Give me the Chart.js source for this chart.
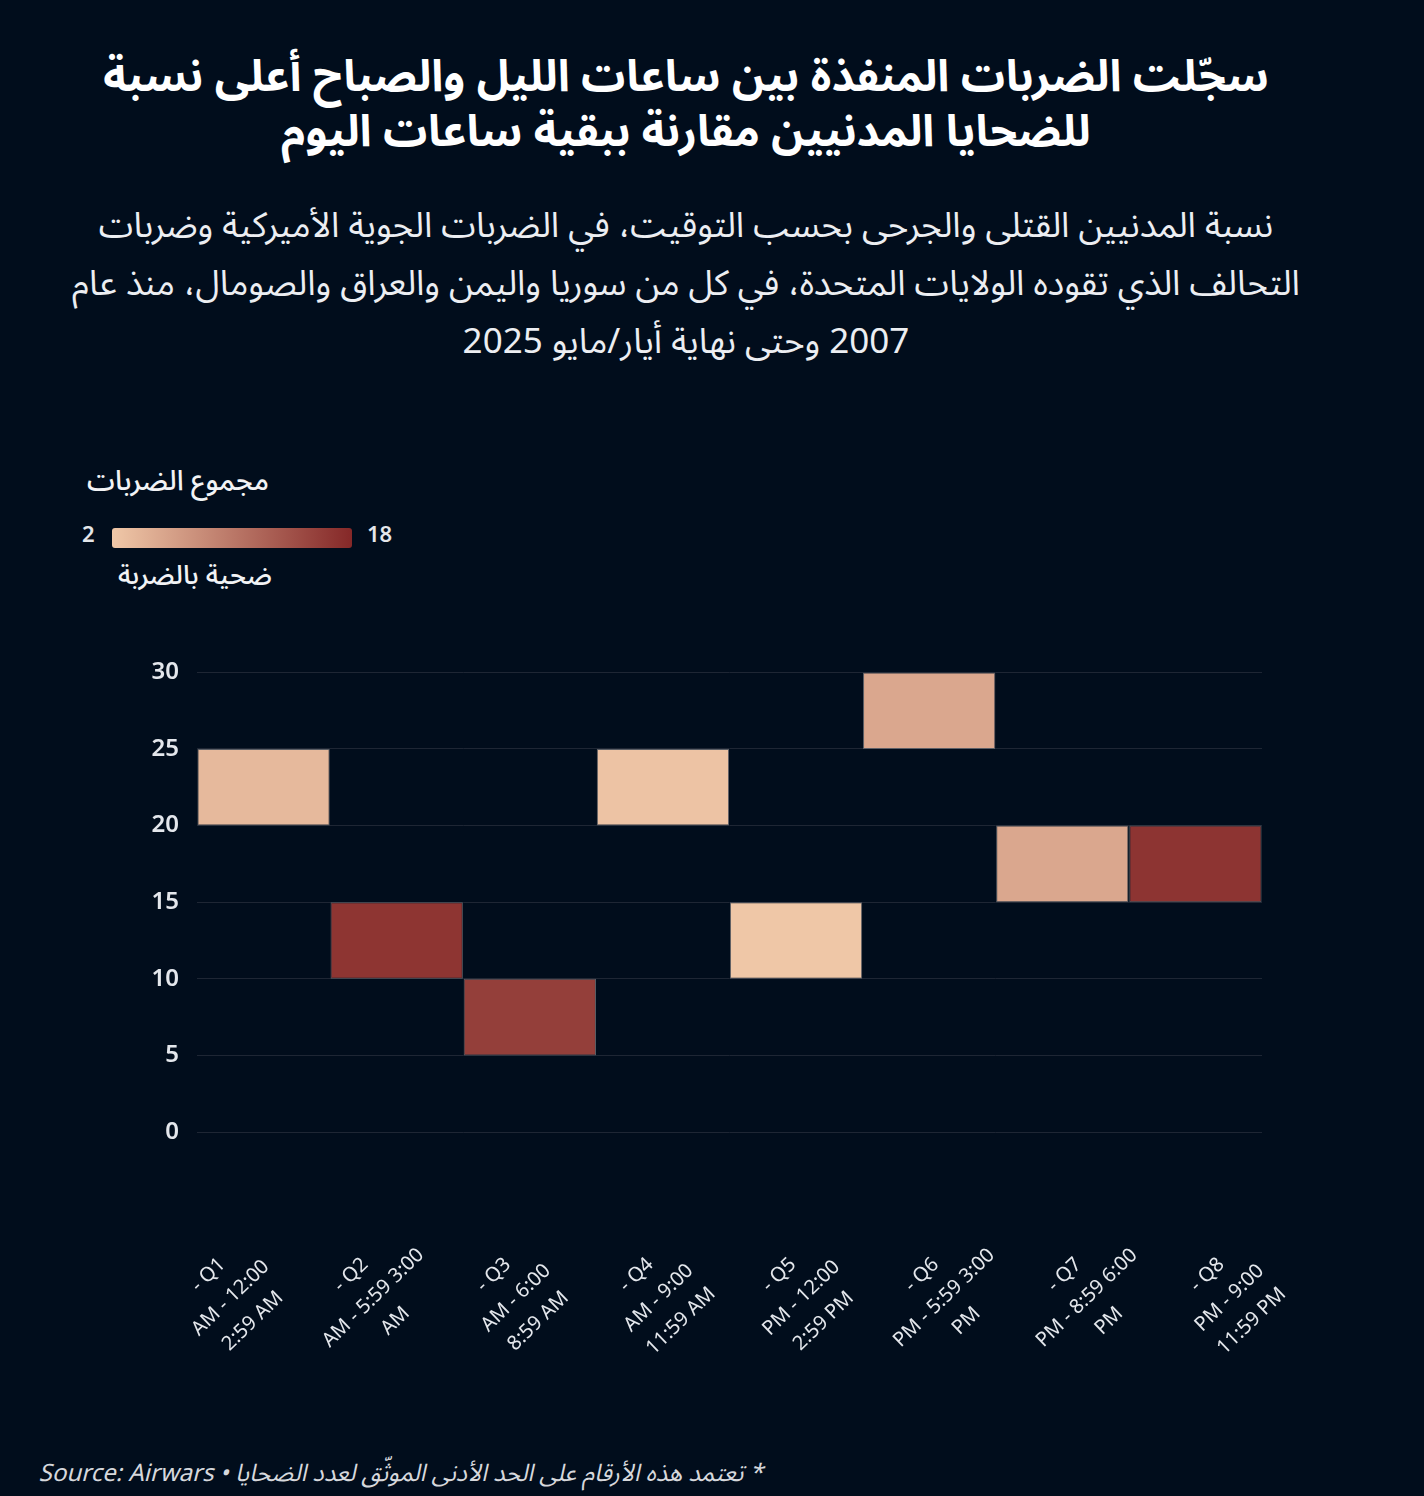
<!DOCTYPE html>
<html lang="ar">
<head>
<meta charset="utf-8">
<title>Strikes by time of day</title>
<script src="https://cdn.jsdelivr.net/npm/chart.js@4.4.1/dist/chart.umd.min.js"></script>
<style>
  html, body {
    margin: 0;
    padding: 0;
    background: #010d1c;
    width: 1424px;
    height: 1496px;
    overflow: hidden;
    font-family: "Noto Sans Arabic", "Noto Sans", "DejaVu Sans", sans-serif;
    color: #ffffff;
  }
  .title {
    position: absolute;
    top: 50px;
    left: 0;
    width: 1372px;
    text-align: center;
    direction: rtl;
    font-size: 44px;
    font-weight: 700;
    line-height: 55px;
  }
  .subtitle {
    position: absolute;
    top: 197px;
    left: 0;
    width: 1372px;
    text-align: center;
    direction: rtl;
    font-size: 35px;
    line-height: 58px;
    color: #eceef2;
  }
  .legend-title {
    position: absolute;
    top: 452px;
    right: 1155px;
    direction: rtl;
    font-size: 28px;
    font-weight: 500;
    color: #f2f3f5;
  }
  .legend-bar {
    position: absolute;
    top: 528px;
    left: 112px;
    width: 240px;
    height: 20px;
    border-radius: 3px;
  }
  .legend-num {
    position: absolute;
    top: 518px;
    font-family: "Noto Sans", sans-serif;
    font-size: 22px;
    font-weight: 600;
    color: #e4e6ea;
  }
  .legend-sub {
    position: absolute;
    top: 547px;
    right: 1152px;
    direction: rtl;
    font-size: 27px;
    font-weight: 500;
    color: #f2f3f5;
  }
  #chart-wrap {
    position: absolute;
    top: 640px;
    left: 0;
    width: 1424px;
    height: 760px;
  }
  .footer {
    position: absolute;
    top: 1448px;
    right: 661px;
    direction: rtl;
    font-size: 24px;
    font-style: italic;
    color: #d6d8dc;
    white-space: nowrap;
  }
</style>
</head>
<body>
<div class="title">سجّلت الضربات المنفذة بين ساعات الليل والصباح أعلى نسبة<br>للضحايا المدنيين مقارنة ببقية ساعات اليوم</div>
<div class="subtitle">نسبة المدنيين القتلى والجرحى بحسب التوقيت، في الضربات الجوية الأميركية وضربات<br>التحالف الذي تقوده الولايات المتحدة، في كل من سوريا واليمن والعراق والصومال، منذ عام<br>2007 وحتى نهاية أيار/مايو 2025</div>

<div class="legend-title">مجموع الضربات</div>
<div class="legend-num" id="legend-min" style="left:82px;"></div>
<div class="legend-bar" id="legend-bar"></div>
<div class="legend-num" id="legend-max" style="left:367px;"></div>
<div class="legend-sub">ضحية بالضربة</div>

<div id="chart-wrap"><canvas id="heatChart"></canvas></div>

<div class="footer">* تعتمد هذه الأرقام على الحد الأدنى الموثّق لعدد الضحايا • Source: Airwars</div>

<script>
// time-of-day slots (as shown on the axis)
const categories = ['Q1', 'Q2', 'Q3', 'Q4', 'Q5', 'Q6', 'Q7', 'Q8'];
const tickLines = [
    ['- Q1', 'AM - 12:00', '2:59 AM'],
    ['- Q2', 'AM - 5:59 3:00', 'AM'],
    ['- Q3', 'AM - 6:00', '8:59 AM'],
    ['- Q4', 'AM - 9:00', '11:59 AM'],
    ['- Q5', 'PM - 12:00', '2:59 PM'],
    ['- Q6', 'PM - 5:59 3:00', 'PM'],
    ['- Q7', 'PM - 8:59 6:00', 'PM'],
    ['- Q8', 'PM - 9:00', '11:59 PM']
];

// cell ranges on the y axis
const cellLow = [20, 10, 5, 20, 10, 25, 15, 15];
const cellHigh = [25, 15, 10, 25, 15, 30, 20, 20];

// civilians per strike (colour)
const victimsPerStrike = [3.5, 16.7, 15.7, 2.5, 2.1, 5.3, 5.3, 16.8];
const colorMin = 2;
const colorMax = 18;

const yTicks = [0, 5, 10, 15, 20, 25, 30];

const lowColor = [240, 200, 168];
const highColor = [133, 40, 40];

function colorFor(v) {
    const t = Math.max(0, Math.min(1, (v - colorMin) / (colorMax - colorMin)));
    const c = lowColor.map((lo, i) => Math.round(lo + (highColor[i] - lo) * t));
    return `rgb(${c[0]}, ${c[1]}, ${c[2]})`;
}

document.getElementById('legend-min').textContent = colorMin;
document.getElementById('legend-max').textContent = colorMax;
document.getElementById('legend-bar').style.background =
    `linear-gradient(to right, ${colorFor(colorMin)}, ${colorFor(colorMax)})`;

// rotated, centred x labels (spread a little wider than the columns)
const xLabelPlugin = {
    id: 'xLabels',
    afterDraw(chart) {
        const ctx = chart.ctx;
        const x = chart.scales.x;
        const first = x.getPixelForValue(0);
        const step = (x.getPixelForValue(1) - first) * 1.072;
        ctx.save();
        ctx.font = '20px "Noto Sans", "Open Sans", sans-serif';
        ctx.fillStyle = '#e4e7ec';
        ctx.textAlign = 'center';
        ctx.textBaseline = 'middle';
        tickLines.forEach((lines, i) => {
            ctx.save();
            ctx.translate(first - 33 + i * step, chart.chartArea.bottom + 166);
            ctx.rotate(-44 * Math.PI / 180);
            lines.forEach((line, j) => {
                ctx.fillText(line, 0, (j - (lines.length - 1) / 2) * 32);
            });
            ctx.restore();
        });
        ctx.restore();
    }
};

const ctx = document.getElementById('heatChart').getContext('2d');
const heatChart = new Chart(ctx, {
    type: 'bar',
    data: {
        labels: categories,
        datasets: [{
            data: categories.map((c, i) => [cellLow[i], cellHigh[i]]),
            backgroundColor: victimsPerStrike.map(colorFor),
            borderColor: '#5c5f66',
            borderWidth: 1,
            borderSkipped: false,
            barPercentage: 1,
            categoryPercentage: 0.994
        }]
    },
    options: {
        responsive: true,
        maintainAspectRatio: false,
        animation: false,
        layout: {
            padding: { top: 31, right: 162, bottom: 268, left: 0 }
        },
        plugins: {
            legend: { display: false },
            tooltip: { enabled: false }
        },
        scales: {
            x: {
                display: false
            },
            y: {
                min: 0,
                max: 30,
                afterFit(scale) { scale.width = 197; },
                afterBuildTicks(scale) {
                    scale.ticks = yTicks.map(v => ({ value: v }));
                },
                border: { display: false },
                grid: {
                    color: '#1e2634',
                    lineWidth: 1,
                    drawTicks: false
                },
                ticks: {
                    padding: 18,
                    color: '#e4e7ec',
                    font: { family: '"Noto Sans", "Open Sans", sans-serif', size: 24, weight: '600' }
                }
            }
        }
    },
    plugins: [xLabelPlugin]
});
</script>
</body>
</html>
